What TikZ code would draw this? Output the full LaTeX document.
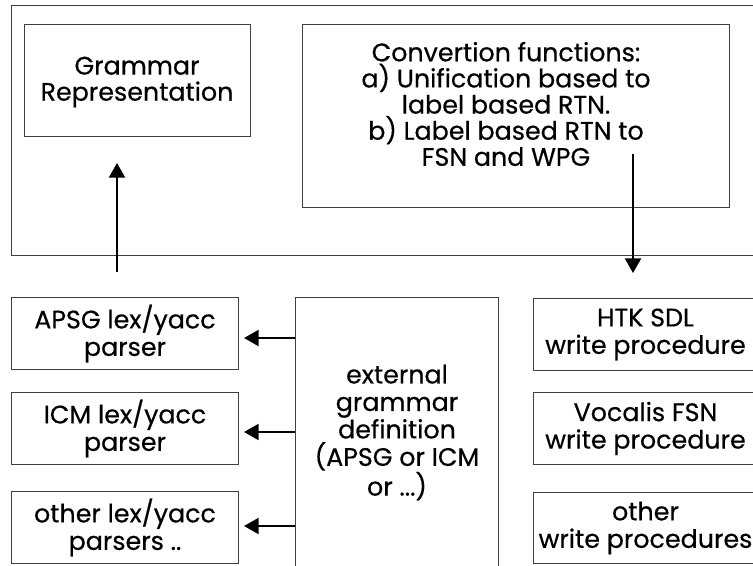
\documentclass[tikz,border=0pt]{standalone}
\usepackage{fontspec}
\setmainfont{Poppins}[FakeBold=0.5]
\usetikzlibrary{arrows.meta,calc}

\tikzset{
  px/.style={x=0.75pt,y=-0.75pt},
  box/.style={draw=black!75,line width=0.75pt,inner sep=0pt,align=center,
    font=\fontsize{19pt}{20.6pt}\selectfont},
  txt/.style={inner sep=0pt,align=center,font=\fontsize{19pt}{19.6pt}\selectfont},
  arr/.style={line width=1.7pt,-{Triangle[length=11pt,width=12pt]}},
}

\begin{document}
\begin{tikzpicture}[px]
\useasboundingbox (0,0) rectangle (753,565);
\clip (0,0) rectangle (753,565);

% outer frame of the upper part
\node[box,anchor=north west,minimum width=780*0.75pt,minimum height=250*0.75pt] (frame) at (11,5) {};

% upper boxes
\node[box,anchor=north west,minimum width=226*0.75pt,minimum height=112*0.75pt] (gram) at (24,24) {};
\node[txt] (gramtext) at (137,82) {Grammar\\Representation};
\node[box,anchor=north west,minimum width=427*0.75pt,minimum height=183*0.75pt] (conv) at (302,24) {};
\node[txt] (convtext) at (506,104)
  {Convertion functions:\\a) Unification based to\\label based RTN.\\b) Label based RTN to\\FSN and WPG};

% parser boxes
\node[box,anchor=north west,minimum width=227*0.75pt,minimum height=72*0.75pt] (apsg) at (11,297)
  {APSG lex/yacc\\parser};
\node[box,anchor=north west,minimum width=227*0.75pt,minimum height=72*0.75pt] (icm) at (11,392)
  {ICM lex/yacc\\parser};
\node[box,anchor=north west,minimum width=227*0.75pt,minimum height=72*0.75pt] (oth) at (11,491)
  {other lex/yacc\\parsers ..};

% grammar definition box
\node[box,anchor=north west,minimum width=203*0.75pt,minimum height=270*0.75pt] (ext) at (295,297)
  {external\\grammar\\definition\\(APSG or ICM\\or ...)};

% write procedure boxes
\node[box,anchor=north west,minimum width=224*0.75pt,minimum height=72*0.75pt] (htk) at (533,298)
  {HTK SDL\\write procedure};
\node[box,anchor=north west,minimum width=224*0.75pt,minimum height=72*0.75pt] (voc) at (533,392)
  {Vocalis FSN\\write procedure};
\node[box,anchor=north west,minimum width=224*0.75pt,minimum height=71*0.75pt] (wot) at (533,492)
  {other\\write procedures};

% connectors
\coordinate (upfrom) at (117,272);
\coordinate (upto) at (117,163);
\draw[arr] (upfrom) -- (upto);

\coordinate (downfrom) at (633,154);
\coordinate (downto) at (633,273);
\draw[arr] (downfrom) -- (downto);

\draw[arr] (ext.west |- 0,338) -- ($(apsg.east |- 0,338)+(5,0)$);
\draw[arr] (ext.west |- 0,432) -- ($(icm.east |- 0,432)+(5,0)$);
\draw[arr] (ext.west |- 0,526) -- ($(oth.east |- 0,526)+(5,0)$);
\end{tikzpicture}
\end{document}
